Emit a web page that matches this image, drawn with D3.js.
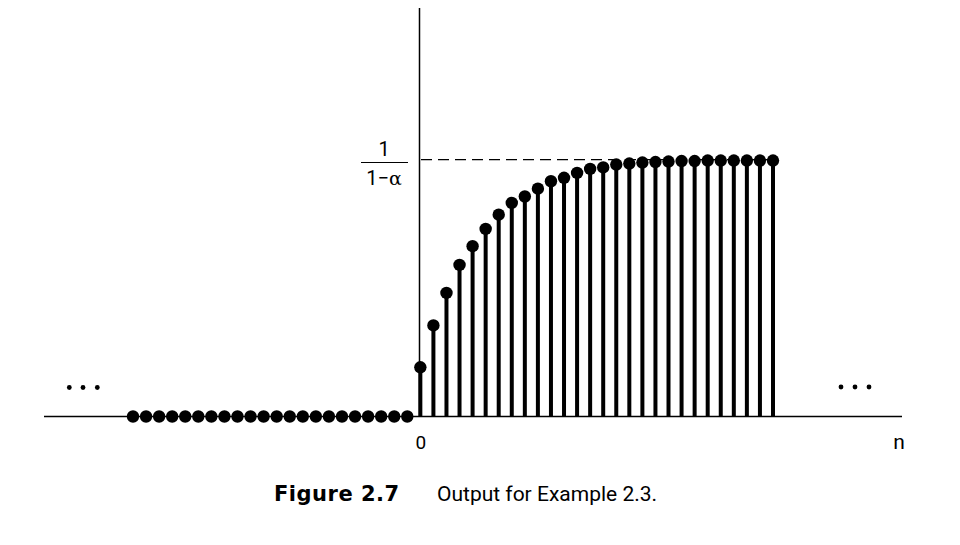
<!DOCTYPE html>
<html><head><meta charset="utf-8">
<script src="https://cdn.jsdelivr.net/npm/d3@7"></script>
<style>body{margin:0;background:#fff} svg{display:block}</style>
</head><body>
<script>
// ---- data (unit = value of y[0]) ----
const nNeg = [-22,-21,-20,-19,-18,-17,-16,-15,-14,-13,-12,-11,-10,-9,-8,-7,-6,-5,-4,-3,-2,-1];
const yNeg = [0,0,0,0,0,0,0,0,0,0,0,0,0,0,0,0,0,0,0,0,0,0];
const nPos = [0,1,2,3,4,5,6,7,8,9,10,11,12,13,14,15,16,17,18,19,20,21,22,23,24,25,26,27];
const yPos = [1.00,1.85,2.51,3.08,3.46,3.81,4.10,4.34,4.47,4.63,4.78,4.85,4.95,5.03,5.06,5.12,5.14,5.16,5.17,5.18,5.19,5.19,5.20,5.20,5.20,5.20,5.20,5.20];
const asymptote = 5.22;          // 1/(1-α)
const yTop = 8.3;
const xTickLabels = ["0"];
const axisName = "n";
const asymNum = "1", asymDen = "1\u2212";
const captionBold = "Figure 2.7", captionText = "Output for Example 2.3.";

const W = 960, H = 545;
const svg = d3.select("body").append("svg").attr("width", W).attr("height", H);

const x = d3.scaleLinear().domain([-22, 27]).range([133, 773]);
const y = d3.scaleLinear().domain([0, yTop]).range([416.5, 8]);

// axes
svg.append("line").attr("x1", 44).attr("x2", 902).attr("y1", y(0)).attr("y2", y(0))
  .attr("stroke", "#000").attr("stroke-width", 1.5);
svg.append("line").attr("x1", 419.5).attr("x2", 419.5).attr("y1", y(0)).attr("y2", y(yTop))
  .attr("stroke", "#000").attr("stroke-width", 1.5);

// dashed asymptote
svg.append("line").attr("x1", 421).attr("x2", x(27)).attr("y1", y(asymptote)).attr("y2", y(asymptote))
  .attr("stroke", "#000").attr("stroke-width", 1.3).attr("stroke-dasharray", "11,6");

// stems
const pos = nPos.map((n, i) => ({n, v: yPos[i]}));
const neg = nNeg.map((n, i) => ({n, v: yNeg[i]}));
svg.append("g").selectAll("line").data(pos).join("line")
  .attr("x1", d => x(d.n)).attr("x2", d => x(d.n))
  .attr("y1", y(0)).attr("y2", d => y(d.v))
  .attr("stroke", "#000").attr("stroke-width", 4);
svg.append("g").selectAll("circle").data(pos.concat(neg)).join("circle")
  .attr("cx", d => x(d.n)).attr("cy", d => y(d.v)).attr("r", 6.2).attr("fill", "#000");

// ellipses
[69.3, 83, 97.3].forEach(cx => svg.append("circle").attr("cx", cx).attr("cy", 387.5).attr("r", 2.4).attr("fill", "#000"));
[841, 855, 869].forEach(cx => svg.append("circle").attr("cx", cx).attr("cy", 387).attr("r", 2.4).attr("fill", "#000"));

const font = "Roboto, Arial, sans-serif";
// labels
svg.append("text").attr("x", x(0) + 0.5).attr("y", 449).attr("text-anchor", "middle")
  .attr("font-family", font).attr("font-size", 19).text(xTickLabels[0]);
svg.append("text").attr("x", 899).attr("y", 449).attr("text-anchor", "middle")
  .attr("font-family", font).attr("font-size", 21).text(axisName);

// fraction label
svg.append("text").attr("x", 384).attr("y", 156).attr("text-anchor", "middle")
  .attr("font-family", font).attr("font-size", 20).text(asymNum);
svg.append("line").attr("x1", 361).attr("x2", 408).attr("y1", 162.5).attr("y2", 162.5)
  .attr("stroke", "#000").attr("stroke-width", 1.2);
const den = svg.append("text").attr("x", 384).attr("y", 185).attr("text-anchor", "middle")
  .attr("font-family", font).attr("font-size", 20);
den.append("tspan").text(asymDen);
den.append("tspan").attr("font-family", "DejaVu Serif, serif").attr("font-size", 19).text("\u03b1");

// caption
svg.append("text").attr("x", 274).attr("y", 501)
  .attr("font-family", "DejaVu Sans, sans-serif").attr("font-weight", 700)
  .attr("letter-spacing", 0.5)
  .attr("font-size", 21).text(captionBold);
svg.append("text").attr("x", 437).attr("y", 501)
  .attr("font-family", "Roboto, sans-serif")
  .attr("font-size", 21).text(captionText);
</script>
</body></html>
